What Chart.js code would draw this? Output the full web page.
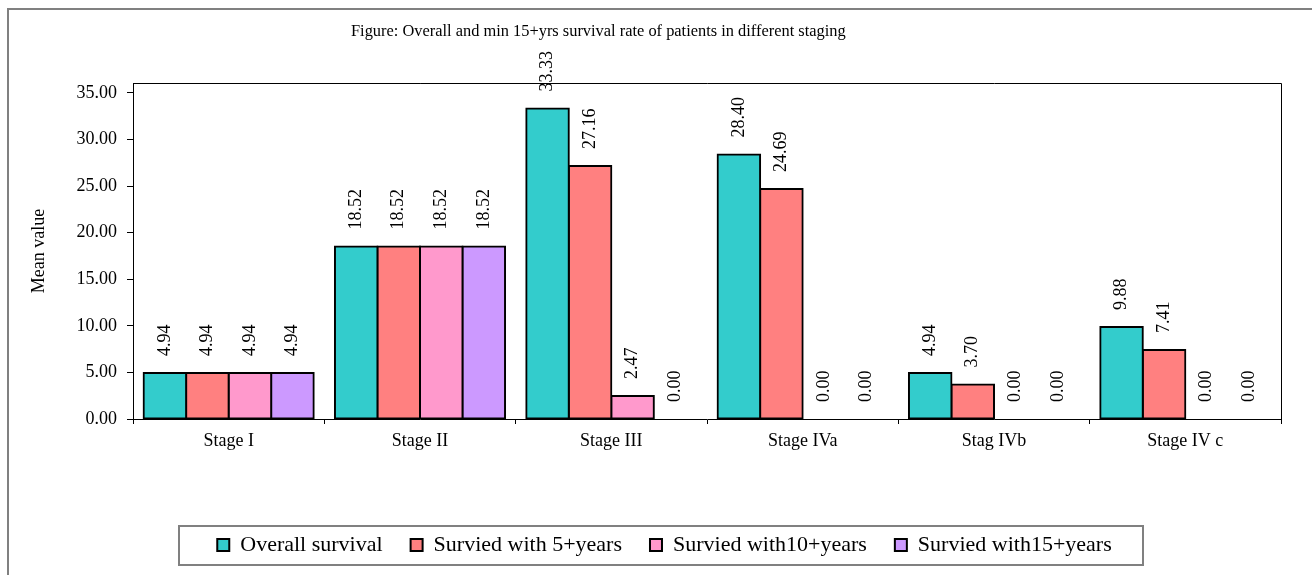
<!DOCTYPE html>
<html>
<head>
<meta charset="utf-8">
<script src="https://cdn.jsdelivr.net/npm/chart.js@4.4.1/dist/chart.umd.min.js"></script>
<style>
  html, body { margin: 0; padding: 0; background: #ffffff; }
  #wrap { width: 1312px; height: 575px; position: relative; }
</style>
</head>
<body>
<div id="wrap"><canvas id="c" width="1312" height="575"></canvas></div>
<script>
// Survival rates (%) by disease stage
const stages = ['Stage I', 'Stage II', 'Stage III', 'Stage IVa', 'Stag IVb', 'Stage IV c'];
const overallSurvival = [4.94, 18.52, 33.33, 28.40, 4.94, 9.88];
const survived5 = [4.94, 18.52, 27.16, 24.69, 3.70, 7.41];
const survived10 = [4.94, 18.52, 2.47, 0.00, 0.00, 0.00];
const survived15 = [4.94, 18.52, 0.00, 0.00, 0.00, 0.00];
const seriesNames = ['Overall survival', 'Survied with 5+years', 'Survied with10+years', 'Survied with15+years'];
const yTicks = { min: 0, max: 35, step: 5 };
const yAxisTop = 36.07; // plot frame sits a little above the last labelled tick
const chartTitle = 'Figure: Overall and min 15+yrs survival rate of patients in different staging';
const yAxisTitle = 'Mean value';

const FONT = '"Liberation Serif", "Times New Roman", Times, serif';
const colors = ['#33CCCC', '#FF8080', '#FF99CC', '#CC99FF'];

function makeSet(i, values) {
  return {
    label: seriesNames[i],
    data: values,
    backgroundColor: colors[i],
    borderColor: '#000000',
    borderWidth: 2,
    borderSkipped: false,
    inflateAmount: (ctx) => (ctx.raw > 0 ? 1 : 0),
    categoryPercentage: 0.889,
    barPercentage: 1.0
  };
}

// Outer frame, plot frame, heading and legend frame
const framePlugin = {
  id: 'frame',
  beforeDraw(chart) {
    const ctx = chart.ctx;
    ctx.save();
    ctx.fillStyle = '#ffffff';
    ctx.fillRect(0, 0, chart.width, chart.height);
    ctx.strokeStyle = '#808080';
    ctx.lineWidth = 2;
    ctx.beginPath();
    ctx.moveTo(8, chart.height + 2);
    ctx.lineTo(8, 9);
    ctx.lineTo(chart.width + 2, 9);
    ctx.stroke();
    ctx.restore();
  },
  afterDraw(chart) {
    const ctx = chart.ctx;
    const a = chart.chartArea;
    ctx.save();
    // top and right edges of the plot area
    ctx.strokeStyle = '#000000';
    ctx.lineWidth = 1;
    ctx.beginPath();
    ctx.moveTo(a.left, a.top + 0.5);
    ctx.lineTo(a.right + 0.5, a.top + 0.5);
    ctx.lineTo(a.right + 0.5, a.bottom);
    ctx.stroke();

    // chart heading
    ctx.fillStyle = '#000000';
    ctx.font = '16.4px ' + FONT;
    ctx.textAlign = 'left';
    ctx.textBaseline = 'alphabetic';
    ctx.fillText(chartTitle, 351, 35.5);

    // frame round the legend row
    const lg = chart.legend;
    if (lg && lg.lineWidths) {
      const p = lg.options.labels.padding;
      const rowW = lg.lineWidths[0] - p;
      const cx = (lg.left + lg.right) / 2;
      const cy = lg.top + p + 11;
      const x0 = cx - rowW / 2 - 38;
      const x1 = cx + rowW / 2 + 32;
      ctx.strokeStyle = '#808080';
      ctx.lineWidth = 2;
      ctx.strokeRect(Math.round(x0), Math.round(cy - 19.5), Math.round(x1 - x0), 39);
    }
    ctx.restore();
  }
};

// Rotated value labels above each bar
const valueLabels = {
  id: 'valueLabels',
  afterDatasetsDraw(chart) {
    const ctx = chart.ctx;
    ctx.save();
    ctx.fillStyle = '#000000';
    ctx.font = '18px ' + FONT;
    ctx.textAlign = 'left';
    ctx.textBaseline = 'middle';
    chart.data.datasets.forEach((ds, di) => {
      const meta = chart.getDatasetMeta(di);
      meta.data.forEach((bar, i) => {
        const v = ds.data[i];
        ctx.save();
        ctx.translate(bar.x, bar.y - 17);
        ctx.rotate(-Math.PI / 2);
        ctx.fillText(v.toFixed(2), 0, 0);
        ctx.restore();
      });
    });
    ctx.restore();
  }
};

Chart.defaults.font.family = FONT;
Chart.defaults.color = '#000000';

new Chart(document.getElementById('c'), {
  type: 'bar',
  data: {
    labels: stages,
    datasets: [
      makeSet(0, overallSurvival),
      makeSet(1, survived5),
      makeSet(2, survived10),
      makeSet(3, survived15)
    ]
  },
  options: {
    responsive: false,
    animation: false,
    devicePixelRatio: 1,
    layout: { padding: { left: 48, right: 31, top: 83, bottom: 9 } },
    plugins: {
      title: { display: false },
      tooltip: { enabled: false },
      legend: {
        display: true,
        position: 'bottom',
        labels: {
          font: { size: 22, family: FONT },
          color: '#000000',
          boxWidth: 12,
          boxHeight: 12,
          padding: 28
        }
      }
    },
    scales: {
      x: {
        grid: {
          display: true,
          drawOnChartArea: false,
          drawTicks: true,
          tickLength: 5,
          color: '#000000',
          offset: true
        },
        border: { display: true, color: '#000000', width: 1 },
        ticks: { font: { size: 18, family: FONT }, color: '#000000', padding: 6, maxRotation: 0 },
        afterFit(scale) { scale.height = 87; }
      },
      y: {
        min: yTicks.min,
        max: yAxisTop,
        grid: {
          display: true,
          drawOnChartArea: false,
          drawTicks: true,
          tickLength: 6,
          color: '#000000'
        },
        border: { display: true, color: '#000000', width: 1 },
        ticks: {
          stepSize: yTicks.step,
          font: { size: 18, family: FONT },
          color: '#000000',
          padding: 10,
          callback: (v) => Number(v).toFixed(2)
        },
        afterBuildTicks(scale) {
          const list = [];
          for (let v = yTicks.min; v <= yTicks.max + 1e-9; v += yTicks.step) list.push({ value: v });
          scale.ticks = list;
        },
        title: {
          display: true,
          text: yAxisTitle,
          font: { size: 18, family: FONT },
          color: '#000000',
          padding: { top: -20, bottom: 0 }
        },
        afterFit(scale) { scale.width = 85; }
      }
    }
  },
  plugins: [framePlugin, valueLabels]
});
</script>
</body>
</html>
